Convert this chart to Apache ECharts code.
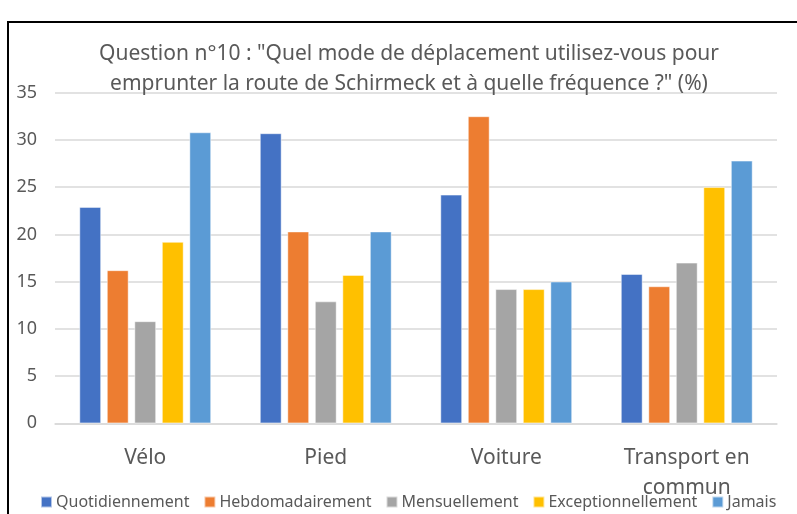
<!DOCTYPE html>
<html>
<head>
<meta charset="utf-8">
<script src="https://cdn.jsdelivr.net/npm/echarts@6/dist/echarts.min.js"></script>
<style>
  html, body { margin: 0; padding: 0; background: #fff; }
  #chart { width: 797px; height: 514px; }
</style>
</head>
<body>
<div id="chart"></div>
<script>
var categories = ["Vélo", "Pied", "Voiture", "Transport en\ncommun"];
var seriesNames = ["Quotidiennement", "Hebdomadairement", "Mensuellement", "Exceptionnellement", "Jamais"];
var quotidien = [22.9, 30.7, 24.2, 15.8];
var hebdo = [16.2, 20.3, 32.5, 14.5];
var mensuel = [10.8, 12.9, 14.2, 17.0];
var exceptionnel = [19.2, 15.7, 14.2, 25.0];
var jamais = [30.8, 20.3, 15.0, 27.8];
var colors = ["#4472C4", "#ED7D31", "#A5A5A5", "#FFC000", "#5B9BD5"];

var values = [quotidien, hebdo, mensuel, exceptionnel, jamais];
var font = "Noto Sans";

var chart = echarts.init(document.getElementById("chart"));
chart.setOption({
  animation: false,
  color: colors,
  textStyle: { fontFamily: font },
  title: {
    text: "Question n°10 : \"Quel mode de déplacement utilisez-vous pour\nemprunter la route de Schirmeck et à quelle fréquence ?\" (%)",
    left: 404,
    top: 34,
    textAlign: "center",
    textStyle: { fontFamily: font, fontSize: 21, fontWeight: "normal", color: "#595959", lineHeight: 30 }
  },
  graphic: [{
    type: "rect",
    shape: { x: 8, y: 22, width: 900, height: 600 },
    style: { fill: "none", stroke: "#000", lineWidth: 2 }
  }],
  legend: {
    data: seriesNames,
    top: 489,
    left: 35,
    itemWidth: 11,
    itemHeight: 11,
    itemGap: 14,
    icon: "rect",
    textStyle: { fontFamily: font, fontSize: 16, color: "#595959", padding: [0, 0, 0, -1] }
  },
  grid: { left: 55, right: 20, top: 92.7, bottom: 90.7 },
  xAxis: {
    type: "category",
    data: categories,
    axisLine: { lineStyle: { color: "#d9d9d9", width: 1.5 } },
    axisTick: { show: false },
    axisLabel: { fontFamily: font, fontSize: 21, color: "#595959", margin: 20, lineHeight: 30 }
  },
  yAxis: {
    type: "value",
    min: 0,
    max: 35,
    interval: 5,
    axisLine: { show: false },
    axisTick: { show: false },
    splitLine: { lineStyle: { color: "#d9d9d9", width: 1.5 } },
    axisLabel: { fontFamily: font, fontSize: 18, color: "#595959", margin: 18 }
  },
  series: seriesNames.map(function (name, i) {
    return {
      name: name,
      type: "bar",
      data: values[i],
      barWidth: "12%",
      barGap: "27%",
      itemStyle: { color: colors[i], borderColor: "rgba(255,255,255,0.6)", borderWidth: 0.8 }
    };
  })
});
</script>
</body>
</html>
